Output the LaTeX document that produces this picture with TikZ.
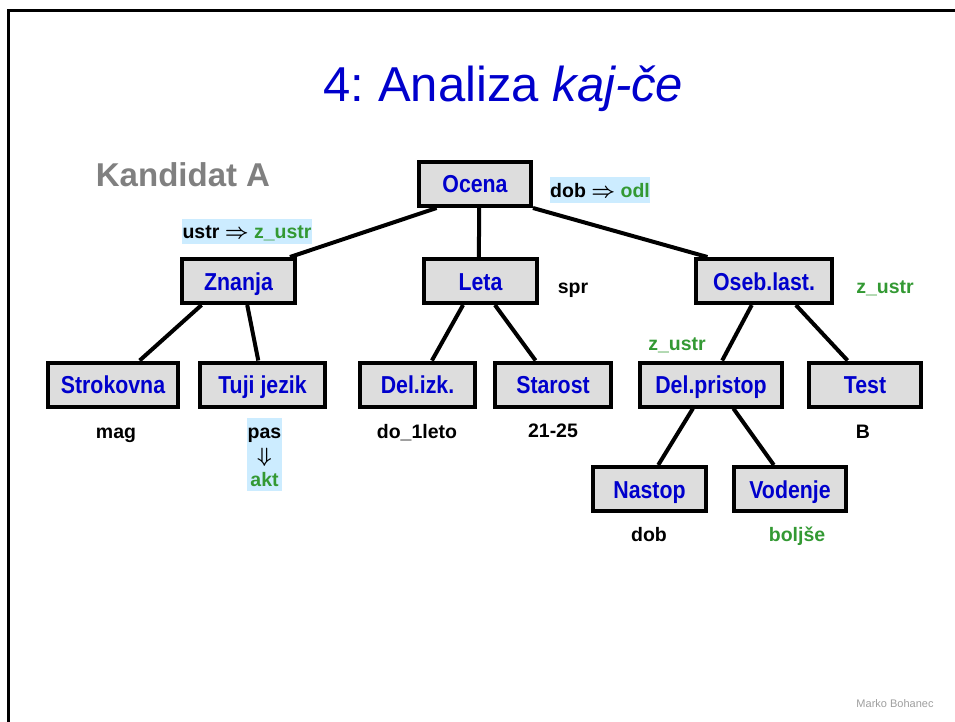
\documentclass[tikz,border=0pt]{standalone}
\usepackage{fontspec}
\setmainfont{Liberation Sans}
\newfontfamily\attrfont{Liberation Sans}[FakeStretch=0.87]
\definecolor{attrblue}{HTML}{0000CC}
\definecolor{valgreen}{HTML}{339933}
\definecolor{hlblue}{HTML}{CCECFF}
\definecolor{boxgray}{HTML}{DDDDDD}
\definecolor{candgray}{HTML}{808080}
\tikzset{
  attr/.style={draw=black, line width=4pt, fill=boxgray, text=attrblue,
    minimum height=44pt, inner sep=0pt, text height=18pt, text depth=0pt,
    font=\attrfont\bfseries\fontsize{24.5}{29}\selectfont},
  val/.style={anchor=base, inner sep=0pt, font=\bfseries\boldmath\fontsize{19.5}{24}\selectfont},
  chg/.style={val, fill=hlblue, inner xsep=0.5pt, text height=19.5pt, text depth=5.5pt},
  conn/.style={line width=4pt},
}
\begin{document}
\begin{tikzpicture}[x=1pt,y=-1pt]
	%%%%% START %%%%%
	\useasboundingbox (0,0) rectangle (955,722);
	\draw[line width=3pt] (8,730) -- (8,11) -- (960,11);
	
	\node[anchor=base, inner sep=0pt, text=attrblue, font=\fontsize{49}{58}\selectfont] (title) at (503.5,102) {4:\ Analiza \textit{kaj-če}};
	\node[anchor=base, inner sep=0pt, text=candgray, font=\bfseries\fontsize{33}{40}\selectfont] (cand) at (183,186) {Kandidat A};
	
	% attributes
	\node[attr, minimum width=112pt] (ocena) at (475,184) {Ocena};
	\node[attr, minimum width=113pt] (znanja) at (238.5,281) {Znanja};
	\node[attr, minimum width=113pt] (leta) at (480.5,281) {Leta};
	\node[attr, minimum width=136pt] (oseb) at (764,281) {Oseb.last.};
	\node[attr, minimum width=130pt] (strokovna) at (113,384.5) {Strokovna};
	\node[attr, minimum width=125pt] (tuji) at (262.5,384.5) {Tuji jezik};
	\node[attr, minimum width=115pt] (delizk) at (417.5,384.5) {Del.izk.};
	\node[attr, minimum width=116pt] (starost) at (553,384.5) {Starost};
	\node[attr, minimum width=142pt] (delpr) at (711,384.5) {Del.pristop};
	\node[attr, minimum width=112pt] (test) at (865,384.5) {Test};
	\node[attr, minimum width=113pt] (nastop) at (649.5,489) {Nastop};
	\node[attr, minimum width=112pt] (vodenje) at (790,489) {Vodenje};
	
	\draw[conn] (ocena.212) -- (znanja.25);
	\draw[conn] (ocena.280) -- (leta.94);
	\draw[conn] (ocena.south east) -- (oseb.157);
	\draw[conn] (znanja.213) -- (strokovna.42);
	\draw[conn] (znanja.290) -- (tuji.100);
	\draw[conn] (leta.234) -- (delizk.59);
	\draw[conn] (leta.301) -- (starost.126);
	\draw[conn] (oseb.243) -- (delpr.65);
	\draw[conn] (oseb.323) -- (test.126);
	\draw[conn] (delpr.233) -- (nastop.70);
	\draw[conn] (delpr.313) -- (vodenje.124);
	
	% values
	\node[chg] (ocenaval) at (600,197) {dob $\Rightarrow$ {\color{valgreen}odl}};
	\node[chg] (znanjaval) at (247,238) {ustr $\Rightarrow$ {\color{valgreen}z\_ustr}};
	\node[val] (letaval) at (573,293) {spr};
	\node[val, text=valgreen] (osebval) at (885,293) {z\_ustr};
	\node[val, text=valgreen] (delprval) at (677,350) {z\_ustr};
	\node[val] (strokovnaval) at (116,438) {mag};
	\node[val, fill=hlblue, inner xsep=1pt, text height=20pt, text depth=53pt] (tujival) at (264.5,438)
		{\begin{tabular}[t]{@{}c@{}}pas\\$\Downarrow$\\\color{valgreen}akt\end{tabular}};
	\node[val] (delizkval) at (417,438) {do\_1leto};
	\node[val] (starostval) at (553,437) {21-25};
	\node[val] (testval) at (863,438) {B};
	\node[val] (nastopval) at (649,541) {dob};
	\node[val, text=valgreen] (vodenjeval) at (797,541) {boljše};
	
	\node[anchor=base, inner sep=0pt, text=black!38, font=\fontsize{11}{13}\selectfont] (author) at (895,707) {Marko Bohanec};
	%%%%% END %%%%%
\end{tikzpicture}
\end{document}
